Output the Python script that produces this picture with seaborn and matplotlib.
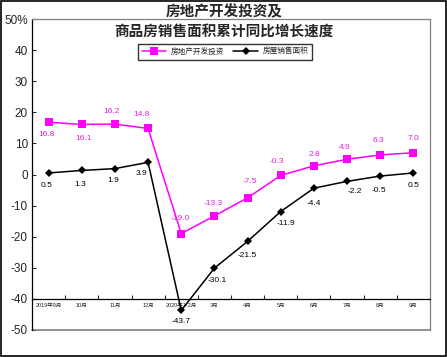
import pandas as pd
import seaborn as sns
import matplotlib.pyplot as plt
from matplotlib.patches import Rectangle

# data
months = ["2019年9月", "10月", "11月", "12月", "2020年1-2月", "3月",
          "4月", "5月", "6月", "7月", "8月", "9月"]
invest = [16.8, 16.1, 16.2, 14.8, -19.0, -13.3, -7.5, -0.3, 2.8, 4.9, 6.3, 7.0]
sales_area = [0.5, 1.3, 1.9, 3.9, -43.7, -30.1, -21.5, -11.9, -4.4, -2.2, -0.5, 0.5]
y_ticks = [-50, -40, -30, -20, -10, 0, 10, 20, 30, 40, 50]
y_ticklabels = ["-50", "-40", "-30", "-20", "-10", "0", "10", "20", "30", "40", "50%"]

name_invest = "房地产开发投资"
name_sales = "房屋销售面积"

sns.set_style("white")
plt.rcParams["font.family"] = ["Liberation Sans", "Noto Sans CJK SC", "DejaVu Sans"]

df = pd.DataFrame({
    "idx": list(range(len(months))) * 2,
    "value": invest + sales_area,
    "series": [name_invest] * len(months) + [name_sales] * len(months),
})

fig = plt.figure(figsize=(4.47, 3.57), dpi=100)
ax = fig.add_axes([32 / 447, 1 - 330 / 357, 398 / 447, 311 / 357])

sns.lineplot(data=df, x="idx", y="value", hue="series", style="series",
             palette={name_invest: "#FF00FF", name_sales: "black"},
             markers={name_invest: "s", name_sales: "D"},
             dashes=False, linewidth=1.1, ax=ax)
for line in ax.lines:
    if line.get_color() == "black":
        line.set_markersize(4.5)
    else:
        line.set_markersize(6)
    line.set_markeredgewidth(0)

ax.set_xlim(-0.5, len(months) - 0.5)
ax.set_ylim(-50, 50)
ax.set_xlabel("")
ax.set_ylabel("")

# y axis
ax.set_yticks(y_ticks)
ax.set_yticklabels(y_ticklabels, fontsize=8.5)
ax.tick_params(axis="y", direction="in", length=3, width=0.8, pad=3, left=True)

# x axis sits at -40
ax.spines["bottom"].set_position(("data", -40))
ax.spines["bottom"].set_color("black")
ax.spines["bottom"].set_linewidth(0.9)
ax.spines["left"].set_color("black")
ax.spines["left"].set_linewidth(0.9)
for s in ["top", "right"]:
    ax.spines[s].set_color("#808080")
    ax.spines[s].set_linewidth(0.9)
ax.axhline(-50, color="#808080", linewidth=1.2, clip_on=False)

ax.set_xticks([i + 0.5 for i in range(len(months) - 1)])
ax.set_xticklabels([])
ax.set_xticks(range(len(months)), minor=True)
ax.set_xticklabels(months, minor=True, fontsize=4)
ax.tick_params(axis="x", which="major", direction="in", length=3, width=0.8, bottom=True)
ax.tick_params(axis="x", which="minor", length=0, pad=3)

# data labels (offsets in pixels)
inv_off = [(-2, -12), (2, -14), (-3, 13), (-7, 14), (-1, 15), (-1, 12),
           (2, 16), (-4, 14), (0, 11), (-2, 12), (-2, 14), (0, 14)]
sal_off = [(-2, -13), (-2, -14), (-2, -12), (-7, -11), (0, -11), (3, -12),
           (0, -14), (5, -12), (0, -15), (8, -10), (-1, -14), (0, -13)]
for i, v in enumerate(invest):
    ax.annotate(f"{v:.1f}", (i, v), xytext=inv_off[i], textcoords="offset pixels",
                ha="center", va="center", fontsize=6, color="#E020E0")
for i, v in enumerate(sales_area):
    ax.annotate(f"{v:.1f}", (i, v), xytext=sal_off[i], textcoords="offset pixels",
                ha="center", va="center", fontsize=6, color="black")

# legend
leg = ax.legend(loc="center", bbox_to_anchor=(225 / 447, 1 - 52 / 357),
                bbox_transform=fig.transFigure, ncol=2, fontsize=5.5,
                frameon=True, fancybox=False, handlelength=3.2,
                handletextpad=0.6, columnspacing=1.2, borderpad=0.5)
leg.get_frame().set_edgecolor("black")
leg.get_frame().set_linewidth(1.0)

# title
fig.text(0.501, 1 - 3 / 357, "房地产开发投资及\n商品房销售面积累计同比增长速度",
         ha="center", va="top", fontsize=10.5, fontweight="bold",
         linespacing=1.3, family=["Noto Sans CJK SC", "DejaVu Sans"])

# outer frame
fig.patches.append(Rectangle((0.002, 0.003), 0.995, 0.994, transform=fig.transFigure,
                             fill=False, edgecolor="black", linewidth=1.2))

fig.savefig("out.png", dpi=100)
